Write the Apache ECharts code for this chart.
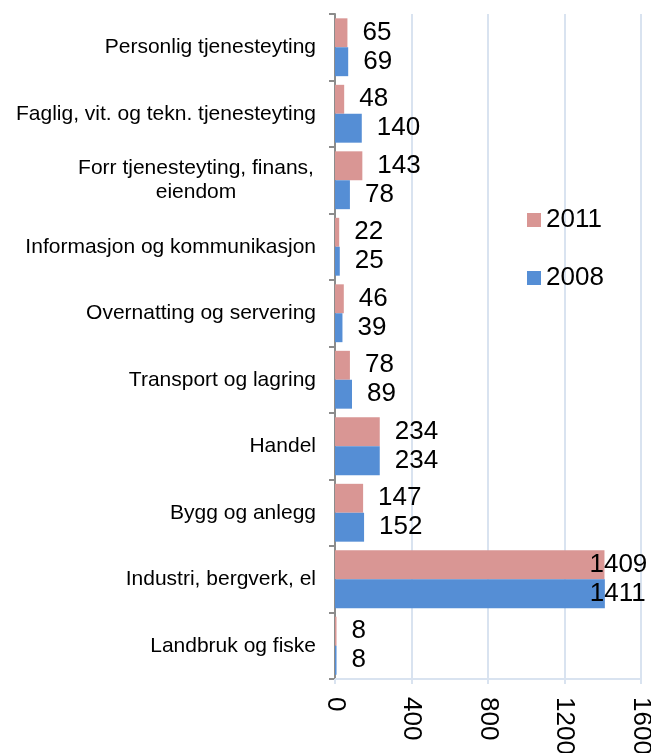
<!DOCTYPE html>
<html>
<head>
<meta charset="utf-8">
<title>Sysselsatte etter næring</title>
<script src="https://cdn.jsdelivr.net/npm/echarts/dist/echarts.min.js"></script>
<style>
	html,body{margin:0;padding:0;background:#fff;}
	#naeringChart{width:651px;height:753px;}
</style>
</head>
<body>
<div id="naeringChart"></div>
<script>
// kategorier, ovenfra og ned
var categories = ['Personlig tjenesteyting', 'Faglig, vit. og tekn. tjenesteyting', 'Forr tjenesteyting, finans,\neiendom',
	'Informasjon og kommunikasjon', 'Overnatting og servering', 'Transport og lagring', 'Handel',
	'Bygg og anlegg', 'Industri, bergverk, el', 'Landbruk og fiske'];
var values2011 = [65, 48, 143, 22, 46, 78, 234, 147, 1409, 8];
var values2008 = [69, 140, 78, 25, 39, 89, 234, 152, 1411, 8];
var xTicks = [0, 400, 800, 1200, 1600];

var fontName = '"Liberation Sans", Arial, sans-serif';

// kategoridata, tolinjers etikett sentreres
function buildCategories(){
	var arr = [];
	for(var i=0;i<categories.length;i++){
		if(categories[i].indexOf('\n')>=0){
			arr.push({value:categories[i], textStyle:{align:'center', padding:[0,240,0,0]}});
		}else{
			arr.push(categories[i]);
		}
	}
	return arr;
}

// verdier med egen etikett for den lange stolpen
function buildData(values){
	var arr = [];
	for(var i=0;i<values.length;i++){
		if(values[i]>1000){
			arr.push({value:values[i], label:{offset:[-30,0]}});
		}else{
			arr.push(values[i]);
		}
	}
	return arr;
}

var charts = echarts.init(document.getElementById('naeringChart'));
var option = {
	animation:false,
	textStyle:{fontFamily:fontName},
	legend:{
		data:['2011','2008'],
		orient:'vertical',
		left:522,
		top:202,
		itemWidth:14,
		itemHeight:14,
		itemGap:32,
		icon:'rect',
		textStyle:{fontSize:26, color:'#000', fontFamily:fontName}
	},
	grid:{
		left:335,
		right:10,
		top:14,
		bottom:74,
		containLabel:false,
		outerBoundsMode:'none'
	},
	xAxis:{
		type:'value',
		min:xTicks[0],
		max:xTicks[xTicks.length-1],
		interval:400,
		axisLine:{show:true, lineStyle:{color:'#d9e3f0', width:2}},
		axisTick:{show:true, length:5, lineStyle:{color:'#d9e3f0', width:2}},
		splitLine:{show:true, lineStyle:{color:'#d9e3f0', width:2}},
		axisLabel:{
			rotate:-90, margin:18, fontSize:26, color:'#000', fontFamily:fontName,
			formatter:function(value){return String(value);}
		}
	},
	yAxis:{
		type:'category',
		inverse:true,
		data:buildCategories(),
		axisLine:{show:true, lineStyle:{color:'#8c8c8c', width:2}},
		axisTick:{show:true, length:6, lineStyle:{color:'#8c8c8c', width:2}},
		axisLabel:{interval:0, margin:19, fontSize:21, lineHeight:24, color:'#000', fontFamily:fontName}
	},
	series:[
		{
			name:'2011',
			type:'bar',
			data:buildData(values2011),
			barGap:'0%',
			barCategoryGap:'13%',
			itemStyle:{color:'#d99694'},
			label:{show:true, position:'right', distance:15, fontSize:26, color:'#000', fontFamily:fontName}
		},
		{
			name:'2008',
			type:'bar',
			data:buildData(values2008),
			barGap:'0%',
			barCategoryGap:'13%',
			itemStyle:{color:'#558ed5'},
			label:{show:true, position:'right', distance:15, fontSize:26, color:'#000', fontFamily:fontName}
		}
	]
};
charts.setOption(option);
</script>
</body>
</html>
